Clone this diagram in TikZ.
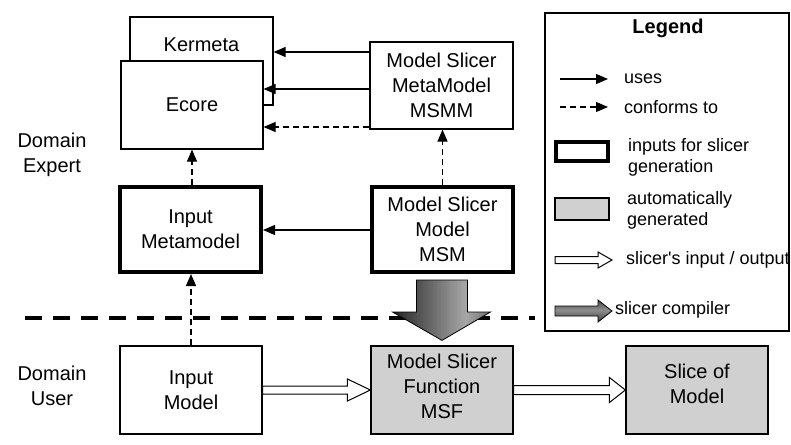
\documentclass[tikz,border=0pt]{standalone}
\usepackage{fontspec}
\setmainfont{Liberation Sans}[Ligatures=TeXOff]
\usetikzlibrary{calc,arrows.meta}
\definecolor{gengray}{HTML}{D0D0D0}
\begin{document}
\begin{tikzpicture}[x=1pt,y=-1pt,
  box/.style={draw, line width=1.2pt, fill=white, inner sep=0pt, align=center, font=\fontsize{20}{25}\selectfont},
  thickbox/.style={box, line width=4pt},
  genbox/.style={box, fill=gengray},
  lbl/.style={font=\fontsize{20}{25}\selectfont, align=center, inner sep=0pt},
  ltxt/.style={font=\fontsize{18}{21}\selectfont, align=left, anchor=west, inner sep=0pt},
  uses/.style={line width=1.2pt, -{Triangle[length=12pt,width=10pt]}},
  conf/.style={uses, dash pattern=on 6pt off 4pt},
  openarr/.style={draw, line width=1pt, fill=white, line join=miter},
  outl/.style={draw, line width=0.8pt, line join=miter},
  sep/.style={line width=4.5pt, dash pattern=on 17pt off 11pt}
]
\useasboundingbox (0,0) rectangle (791,444);

% Domain labels
\node[lbl] (expert) at (52,154.5) {Domain\\Expert};
\node[lbl] (user) at (52,386) {Domain\\User};

% separator
\coordinate (sepL) at (25,318);
\coordinate (sepR) at (535,318);
\draw[sep] (sepL) -- (sepR);

% top boxes
\node[box, minimum width=143pt, minimum height=88pt] (kermeta) at (201.5,61) {};
\node[lbl] (kermetatxt) at (201.5,45) {Kermeta};
\node[box, minimum width=142pt, minimum height=88pt] (ecore) at (192,105) {Ecore};
\node[box, minimum width=143pt, minimum height=87pt] (msmm) at (441.5,85.5) {Model Slicer\\MetaModel\\MSMM};

% middle boxes
\node[thickbox, minimum width=141pt, minimum height=85pt] (imm) at (190.5,229.5) {Input\\Metamodel};
\node[thickbox, minimum width=141pt, minimum height=85pt] (msm) at (442.5,229.5) {Model Slicer\\Model\\MSM};

% bottom boxes
\node[box, minimum width=142pt, minimum height=88pt] (im) at (191,390) {Input\\Model};
\node[genbox, minimum width=142pt, minimum height=88pt,
      label={[lbl, yshift=4pt]center:Model Slicer\\Function\\MSF}] (msf) at (442,390) {};
\node[genbox, minimum width=142pt, minimum height=88pt,
      label={[lbl, yshift=6pt]center:Slice of\\Model}] (slice) at (697,390) {};

% uses / conforms connectors
\draw[uses] (msmm.west |- 0,52) -- (kermeta.east |- 0,52);
\draw[uses] (msmm.west |- 0,89) -- (ecore.east |- 0,89);
\draw[conf] (msmm.west |- 0,127) -- (ecore.east |- 0,127);
\draw[conf] (imm.north -| 192,0) -- (ecore.south -| 192,0);
\draw[conf] (msm.north) -- (msmm.south -| msm.north);
\draw[uses] (msm.west |- 0,230) -- (imm.east |- 0,230);
\draw[conf] (im.north) -- (imm.south -| im.north);

% compiler arrow (gradient by strips)
\def\comparrowpath{($(msm.south)+(-26,6)$) -- ($(msm.south)+(25,6)$) -- ($(msm.south)+(25,38)$)
  -- ($(msm.south)+(48,38)$) -- ($(msf.north)+(0,-5)$) -- ($(msm.south)+(-50,38)$)
  -- ($(msm.south)+(-26,38)$) -- cycle}
\begin{scope}
  \clip \comparrowpath;
  \foreach \i in {0,...,49} {
    \pgfmathsetmacro\tt{(\i+0.5)/50}
    \pgfmathtruncatemacro\kk{\tt<0.75 ? 88-53*\tt/0.75 : 35+22*(\tt-0.75)/0.25}
    \fill[black!\kk] (391+\i*2,270) rectangle (393.6+\i*2,350);
  }
\end{scope}
\path[outl] \comparrowpath;

% slicer input/output arrows
\path[openarr] ($(im.east)+(0,-4)$) -- ($(msf.west)+(-23,-4)$) -- ($(msf.west)+(-23,-11)$)
  -- (msf.west) -- ($(msf.west)+(-23,11)$) -- ($(msf.west)+(-23,4)$) -- ($(im.east)+(0,4)$) -- cycle;
\path[openarr] ($(msf.east)+(0,-4.5)$) -- ($(slice.west)+(-16,-4.5)$) -- ($(slice.west)+(-16,-12.5)$)
  -- (slice.west) -- ($(slice.west)+(-16,12.5)$) -- ($(slice.west)+(-16,4.5)$) -- ($(msf.east)+(0,4.5)$) -- cycle;

% legend
\node[draw, line width=1.2pt, fill=white, minimum width=244pt, minimum height=318pt, inner sep=0pt] (legend) at (667,172) {};
\node[font=\bfseries\fontsize{20}{24}\selectfont, inner sep=0pt] (legtitle) at (668,28) {Legend};

\coordinate (u1) at (560,79); \coordinate (u2) at (608,79);
\draw[uses] (u1) -- (u2);
\node[ltxt] (usestxt) at (624,79) {uses};

\coordinate (c1) at (560,107); \coordinate (c2) at (608,107);
\draw[conf] (c1) -- (c2);
\node[ltxt] (conftxt) at (624,107) {conforms to};

\node[draw, line width=4pt, inner sep=0pt, minimum width=52pt, minimum height=19pt] (legthick) at (582,151.5) {};
\node[ltxt] (inputstxt) at (628,157) {inputs for slicer\\generation};

\node[draw, line width=1.2pt, fill=gengray, inner sep=0pt, minimum width=54pt, minimum height=22pt] (leggen) at (582,209) {};
\node[ltxt] (autotxt) at (627,210) {automatically\\generated};

\coordinate (o1) at (555,260);
\path[openarr] ($(o1)+(0,-3.5)$) -- ($(o1)+(43,-3.5)$) -- ($(o1)+(43,-8)$) -- ($(o1)+(57,0)$)
  -- ($(o1)+(43,8)$) -- ($(o1)+(43,3.5)$) -- ($(o1)+(0,3.5)$) -- cycle;
\node[ltxt] (iotxt) at (626,260) {slicer's input / output};

\coordinate (g1) at (555,311);
\def\legarrowpath{($(g1)+(0,-5)$) -- ($(g1)+(43,-5)$) -- ($(g1)+(43,-11)$) -- ($(g1)+(57,0)$)
  -- ($(g1)+(43,11)$) -- ($(g1)+(43,5)$) -- ($(g1)+(0,5)$) -- cycle}
\begin{scope}
  \clip \legarrowpath;
  \foreach \i in {0,...,22} {
    \pgfmathsetmacro\tt{(\i+0.5)/23}
    \pgfmathtruncatemacro\kk{75-30*(1-abs(2*\tt-1))}
    \fill[black!\kk] (550,299+\i) rectangle (615,300.3+\i);
  }
\end{scope}
\path[outl] \legarrowpath;
\node[ltxt] (comptxt) at (615,310) {slicer compiler};
\end{tikzpicture}
\end{document}
